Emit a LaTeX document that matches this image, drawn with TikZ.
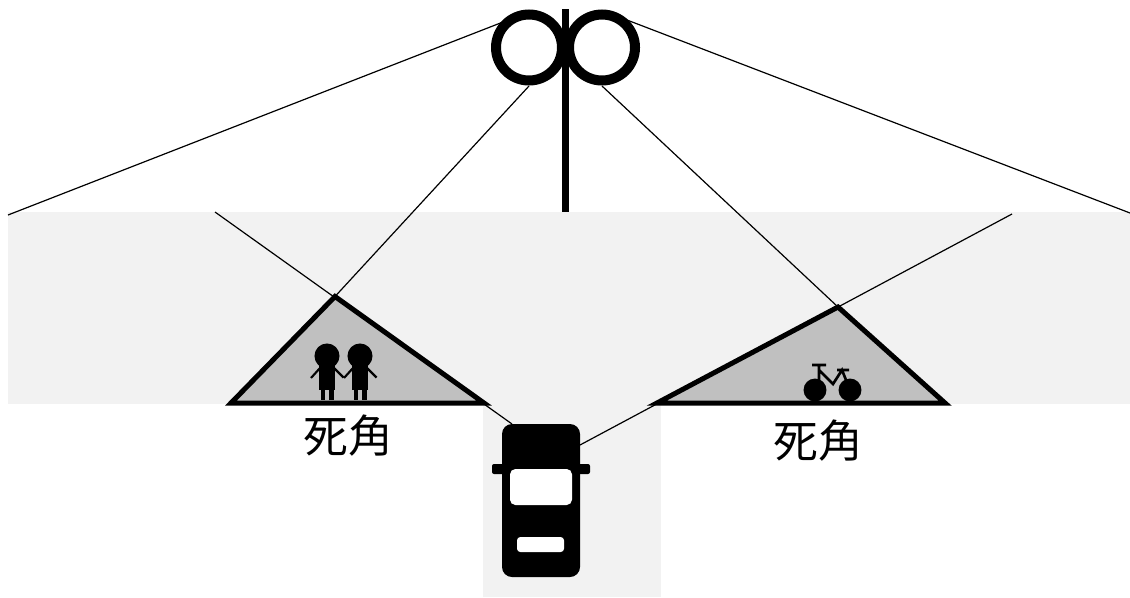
\documentclass[tikz,border=0pt]{standalone}
\usepackage{fontspec}
\newfontfamily\jp{Noto Sans CJK JP}
\usetikzlibrary{positioning}
\definecolor{roadgray}{HTML}{F2F2F2}
\definecolor{zonegray}{HTML}{C0C0C0}

\begin{document}
\begin{tikzpicture}[x=0.75pt,y=-0.75pt,
  sight/.style={black,line width=0.9pt},
  zone/.style={fill=zonegray,draw=black,line width=3.75pt},
  zonetext/.style={font=\jp\fontsize{33.5}{38}\selectfont}]
\useasboundingbox (0,0) rectangle (1130,597);
% road
\fill[roadgray] (8,212) rectangle (1130,404);
\fill[roadgray] (483,404) rectangle (661,597);
% end points of the lines
\coordinate (farL) at (8,215);
\coordinate (farR) at (1130,213);
\coordinate (topL) at (503,22);
\coordinate (topR) at (627,20);
\coordinate (botL) at (529,86);
\coordinate (botR) at (602,86);
\coordinate (edgeL) at (215,212);
\coordinate (edgeR) at (1012,214);
\coordinate (apexL) at (335,296.5);
\coordinate (apexR) at (838,307);
\coordinate (carL) at (512,424);
\coordinate (carR) at (580,445);
\draw[sight] (farL) -- (topL);
\draw[sight] (topR) -- (farR);
\draw[sight] (botL) -- (apexL);
\draw[sight] (botR) -- (apexR);
\draw[sight] (edgeL) -- (carL);
\draw[sight] (edgeR) -- (carR);
% blind spots
\draw[zone] (231,403) -- (apexL) -- (484,403) -- cycle;
\draw[zone] (657,403) -- (apexR) -- (945,403) -- cycle;
% children
\foreach \cx in {327,360}{
  \fill (\cx,356) circle[radius=9.4pt];
  \fill (\cx-8,362) rectangle (\cx+8,390);
  \fill (\cx-6.5,389) rectangle (\cx-2,400);
  \fill (\cx+2,389) rectangle (\cx+6.5,400);
  \draw[line width=1.6pt] (\cx-16,378) -- (\cx-7,368) (\cx+7,368) -- (\cx+16.5,377.5);
}
% bicycle
\fill (815,390) circle[radius=8.6pt] (850,390) circle[radius=8.6pt];
\draw[line width=2pt] (812,365) -- (826,365) (819,365) -- (819,385)
  (819,370) -- (833,384) -- (842,370) -- (850,390) (837,370) -- (849,370);
% car
\fill[rounded corners=1.5pt] (492,464) rectangle (590,474);
\fill[rounded corners=7.5pt] (502,424) rectangle (580,577);
\fill[white,rounded corners=4pt] (510,469) rectangle (572,505);
\fill[white,rounded corners=2.5pt] (517,537) rectangle (564,552);
% mirror
\draw[line width=7.5pt] (529,47.5) circle[radius=24.75pt] (602,47.5) circle[radius=24.75pt];
\draw[line width=5.6pt] (565.5,9) -- (565.5,212);
\node[zonetext] (deadL) at (348,436) {死角};
\node[zonetext] (deadR) at (818,441) {死角};
\end{tikzpicture}
\end{document}
